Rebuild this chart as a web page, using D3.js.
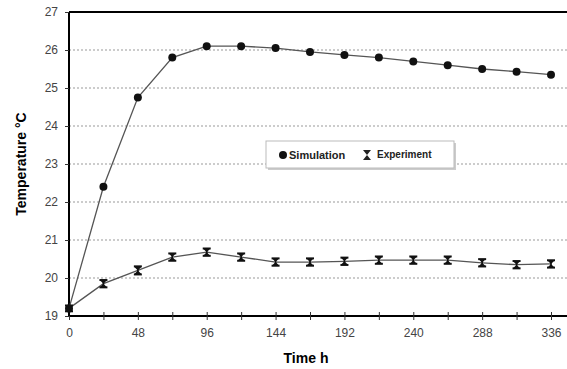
<!DOCTYPE html>
<html><head><meta charset="utf-8">
<script src="https://cdn.jsdelivr.net/npm/d3@7"></script>
<style>body{margin:0;background:#fff}svg{display:block}</style>
</head><body>
<svg id="c" width="567" height="369"></svg>
<script>
const hours = [0,24,48,72,96,120,144,168,192,216,240,264,288,312,336];
const simulation = [19.2,22.4,24.75,25.8,26.1,26.1,26.05,25.95,25.87,25.8,25.7,25.6,25.5,25.43,25.35];
const experiment = [19.2,19.85,20.2,20.55,20.68,20.55,20.42,20.42,20.44,20.47,20.47,20.47,20.4,20.35,20.37];
const expError = [0.05,0.07,0.08,0.07,0.07,0.07,0.07,0.07,0.07,0.07,0.07,0.07,0.07,0.07,0.07];
const xTicks = [0,48,96,144,192,240,288,336];
const yTicks = [19,20,21,22,23,24,25,26,27];
const seriesNames = ["Simulation","Experiment"];

const svg = d3.select("#c");
const x = d3.scaleLinear().domain([0,336]).range([69,551]);
const y = d3.scaleLinear().domain([19,27]).range([316,12]);

// grid
svg.append("g").selectAll("line").data(yTicks.filter(v=>v>19&&v<27)).join("line")
  .attr("x1",69).attr("x2",567).attr("y1",d=>y(d)).attr("y2",d=>y(d))
  .attr("stroke","#999").attr("stroke-width",1.2).attr("stroke-dasharray","2,2");
// top frame
svg.append("line").attr("x1",69).attr("x2",567).attr("y1",y(27)).attr("y2",y(27))
  .attr("stroke","#000").attr("stroke-width",2);

// axes
const xAxis = d3.axisBottom(x).tickValues(hours).tickSize(5)
  .tickFormat(d=>xTicks.includes(d)?d:"");
const gx = svg.append("g").attr("transform",`translate(0,${y(19)})`).call(xAxis);
gx.select(".domain").attr("d",`M69,0H567`).attr("stroke","#000").attr("stroke-width",2);
gx.selectAll(".tick line").attr("y1",-4).attr("y2",4).attr("stroke","#333");
gx.selectAll("text").attr("dy","1.1em").attr("font-family","Arial, Liberation Sans, sans-serif")
  .attr("font-size",12).attr("fill","#444");

const yAxis = d3.axisLeft(y).tickValues(yTicks).tickSize(4).tickFormat(d3.format("d"));
const gy = svg.append("g").attr("transform",`translate(69,0)`).call(yAxis);
gy.select(".domain").attr("stroke","#000").attr("stroke-width",2).attr("d",`M0,${y(27)}V${y(19)}`);
gy.selectAll(".tick line").attr("stroke","#333");
gy.selectAll("text").attr("x",-11).attr("font-family","Arial, Liberation Sans, sans-serif")
  .attr("font-size",12).attr("fill","#444");

const line = d3.line().x((d,i)=>x(hours[i])).y(d=>y(d));
svg.append("path").datum(simulation).attr("d",line).attr("fill","none")
  .attr("stroke","#555").attr("stroke-width",1.3);
svg.append("path").datum(experiment).attr("d",line).attr("fill","none")
  .attr("stroke","#555").attr("stroke-width",1.3);

// simulation markers
svg.append("g").selectAll("circle").data(simulation).join("circle")
  .attr("cx",(d,i)=>x(hours[i])).attr("cy",d=>y(d)).attr("r",4).attr("fill","#111");

// experiment markers with error bars
const eg = svg.append("g").selectAll("g").data(experiment).join("g")
  .attr("transform",(d,i)=>`translate(${x(hours[i])},${y(d)})`);
eg.append("line").attr("y1",(d,i)=>y(d+expError[i])-y(d)).attr("y2",(d,i)=>y(d-expError[i])-y(d))
  .attr("stroke","#111").attr("stroke-width",1.5);
eg.append("line").attr("x1",-4).attr("x2",4).attr("y1",(d,i)=>y(d+expError[i])-y(d)-1).attr("y2",(d,i)=>y(d+expError[i])-y(d)-1)
  .attr("stroke","#111").attr("stroke-width",2);
eg.append("line").attr("x1",-4).attr("x2",4).attr("y1",(d,i)=>y(d-expError[i])-y(d)+1).attr("y2",(d,i)=>y(d-expError[i])-y(d)+1)
  .attr("stroke","#111").attr("stroke-width",2);
eg.append("path").attr("d","M-3.5,-3.5L3.5,-3.5L0,0L3.5,3.5L-3.5,3.5L0,0Z").attr("fill","#111");

// legend
const lg = svg.append("g").attr("transform","translate(266,141)");
lg.append("rect").attr("x",2).attr("y",2).attr("width",188).attr("height",27).attr("fill","#ccc");
lg.append("rect").attr("width",188).attr("height",27).attr("fill","#fff").attr("stroke","#bbb");
lg.append("circle").attr("cx",17).attr("cy",14).attr("r",4).attr("fill","#111");
lg.append("text").attr("x",23).attr("y",18).text(seriesNames[0])
  .attr("font-family","Arial, Liberation Sans, sans-serif").attr("font-size",11).attr("font-weight","bold").attr("fill","#222");
lg.append("path").attr("d","M97,9L105,9L101,14L105,19L97,19L101,14Z").attr("fill","#222");
lg.append("text").attr("x",111).attr("y",17).text(seriesNames[1])
  .attr("font-family","Arial, Liberation Sans, sans-serif").attr("font-size",10).attr("font-weight","bold").attr("fill","#222");

// axis titles
svg.append("text").attr("transform","translate(26,164) rotate(-90)").attr("text-anchor","middle")
  .attr("font-family","Arial, Liberation Sans, sans-serif").attr("font-size",14).attr("font-weight","bold")
  .text("Temperature °C");
svg.append("text").attr("x",306).attr("y",363).attr("text-anchor","middle")
  .attr("font-family","Arial, Liberation Sans, sans-serif").attr("font-size",14).attr("font-weight","bold")
  .text("Time h");
</script>
</body></html>
